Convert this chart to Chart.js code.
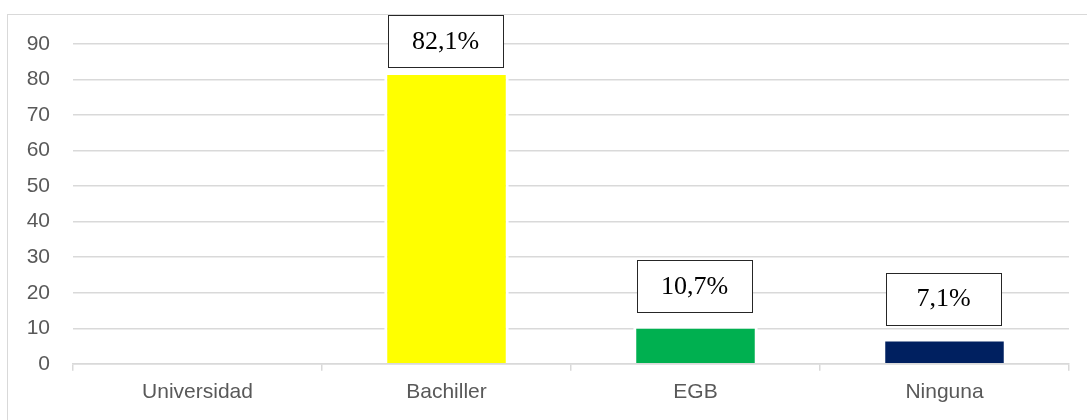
<!DOCTYPE html>
<html>
<head>
<meta charset="utf-8">
<script src="https://cdn.jsdelivr.net/npm/chart.js@4"></script>
<style>
  html, body { margin: 0; padding: 0; background: #fff; overflow: hidden; }
  #wrap { position: relative; width: 1087px; height: 420px; }
  #frame { position: absolute; left: 7px; top: 14px; width: 1200px; height: 500px; border: 1.5px solid #d9d9d9; box-sizing: border-box; }
  canvas { position: absolute; left: 0; top: 0; }
</style>
</head>
<body>
<div id="wrap">
  <div id="frame"></div>
  <canvas id="chart" width="1087" height="420"></canvas>
</div>
<script>
const categories = ["Universidad", "Bachiller", "EGB", "Ninguna"];
const values = [0, 82.1, 10.7, 7.1];
const labels = ["", "82,1%", "10,7%", "7,1%"];
const barColors = ["#4472c4", "#ffff00", "#00b050", "#002060"];
const yTicks = [0, 10, 20, 30, 40, 50, 60, 70, 80, 90];

// Boxed percentage labels above the bars
const boxLabels = {
  id: "boxLabels",
  afterDatasetsDraw(chart) {
    let ctx = chart.ctx;
    let meta = chart.getDatasetMeta(0);
    ctx.save();
    ctx.font = "26px 'Liberation Serif', 'Times New Roman', serif";
    ctx.textAlign = "center";
    ctx.textBaseline = "middle";
    meta.data.forEach((bar, i) => {
      if (!labels[i]) return;
      let w = 115, h = 52;
      let bottom = bar.y - 14;
      let top = Math.max(bottom - h, 15);
      let x = bar.x - 1 - w / 2;
      ctx.fillStyle = "#ffffff";
      ctx.fillRect(x, top, w, h);
      ctx.strokeStyle = "#262626";
      ctx.lineWidth = 1;
      ctx.strokeRect(Math.round(x) + 0.5, Math.round(top) + 0.5, w, h);
      ctx.fillStyle = "#000000";
      ctx.fillText(labels[i], x + w / 2, top + h / 2 + 1);
    });
    ctx.restore();
  }
};

new Chart(document.getElementById("chart"), {
  type: "bar",
  data: {
    labels: categories,
    datasets: [{
      data: values,
      backgroundColor: barColors,
      borderColor: "#ffffff",
      borderWidth: 3,
      borderSkipped: "bottom",
      categoryPercentage: 1,
      barPercentage: 0.5
    }]
  },
  options: {
    responsive: false,
    animation: false,
    layout: { padding: { top: 44, right: 18, bottom: 6, left: 0 } },
    plugins: { legend: { display: false }, tooltip: { enabled: false } },
    scales: {
      x: {
        grid: { display: true, offset: true, drawOnChartArea: false, drawTicks: true, tickLength: 7, color: "#d9d9d9", lineWidth: 1.5 },
        border: { display: true, color: "#d9d9d9", width: 1.5 },
        ticks: { color: "#595959", font: { family: "'Liberation Sans', Arial, sans-serif", size: 21 }, padding: 9 }
      },
      y: {
        min: 0,
        max: 90,
        afterFit(scale) { scale.width = 73; },
        afterBuildTicks(scale) { scale.ticks = yTicks.map(v => ({ value: v })); },
        grid: { color: "#d9d9d9", lineWidth: 1.5, drawTicks: false },
        border: { display: false },
        ticks: { color: "#595959", font: { family: "'Liberation Sans', Arial, sans-serif", size: 21 }, padding: 23 }
      }
    }
  },
  plugins: [boxLabels]
});
</script>
</body>
</html>
